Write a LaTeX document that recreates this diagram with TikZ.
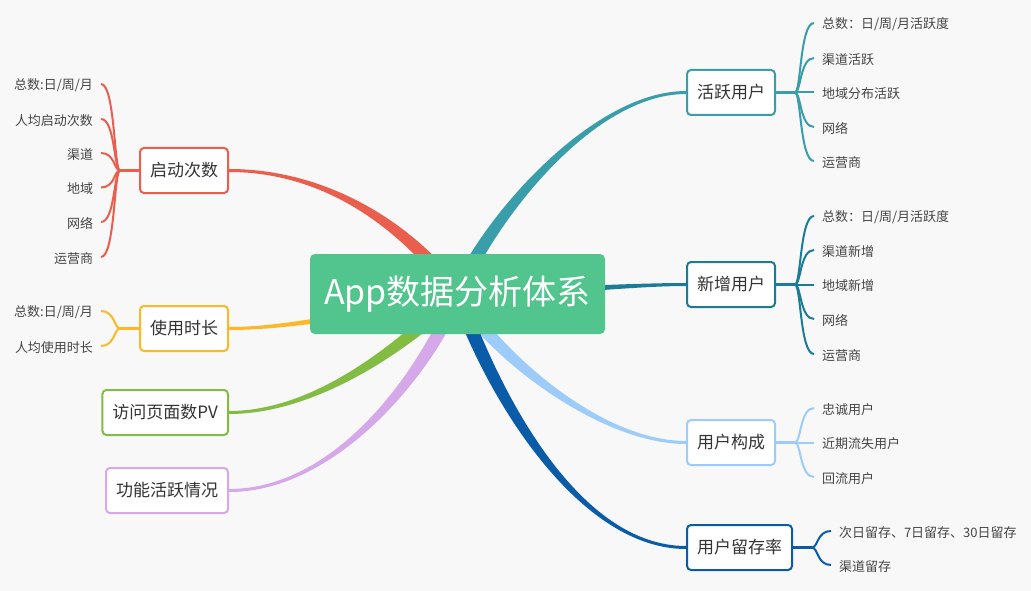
\documentclass[tikz,border=0pt]{standalone}
\usepackage{fontspec}
\setmainfont{Noto Sans CJK SC}
\usepackage{xcolor}
\usepackage{tikz}
\usetikzlibrary{calc, backgrounds}
\definecolor{bggray}{HTML}{F8F8F8}
\definecolor{rootgreen}{HTML}{52C48D}
\definecolor{qdred}{HTML}{EA5E4D}
\definecolor{scorange}{HTML}{FBB828}
\definecolor{fwgreen}{HTML}{82BC42}
\definecolor{gnlilac}{HTML}{D5A8EA}
\definecolor{hyteal}{HTML}{3A9DAA}
\definecolor{xzteal}{HTML}{1B7C98}
\definecolor{gcblue}{HTML}{9DCBFA}
\definecolor{lcblue}{HTML}{0B5CA8}
\definecolor{textgray}{HTML}{333333}
\definecolor{leafgray}{HTML}{454545}
\tikzset{
  root/.style={rectangle, fill=rootgreen, rounded corners=5pt,
               minimum width=295pt, minimum height=80pt, text=white,
               font=\fontsize{34pt}{40pt}\selectfont},
  topic/.style={rectangle, draw=#1, fill=white, line width=2pt,
                rounded corners=4pt, minimum height=45pt, inner xsep=10pt,
                text=textgray, font=\fontsize{17pt}{20pt}\selectfont},
  leaf/.style={inner sep=0pt, outer xsep=8pt, yshift=-1.5pt, text=leafgray,
               font=\fontsize{13pt}{15pt}\selectfont},
  hub/.style={draw=#1, line width=2.5pt},
  rbrace/.style={draw=#1, line width=2pt,
                 to path={.. controls +(6,0) and +(-14,0) .. (\tikztotarget)}},
  lbrace/.style={draw=#1, line width=2pt,
                 to path={.. controls +(-6,0) and +(14,0) .. (\tikztotarget)}},
}
% tapered branch: colour, start half width, start, control, control, end
\newcommand\taper[6]{%
  \fill[#1] ($(#3)!#2pt!90:(#4)$) .. controls ($(#4)!#2pt!-90:(#3)$) and ($(#5)!1.5pt!90:(#6)$) .. ($(#6)!1.5pt!-90:(#5)$)
    -- ($(#6)!1.5pt!90:(#5)$) .. controls ($(#5)!1.5pt!-90:(#6)$) and ($(#4)!#2pt!90:(#3)$) .. ($(#3)!#2pt!-90:(#4)$) -- cycle;}

\begin{document}
\begin{tikzpicture}[x=1pt, y=-1pt]
  \node[root] (app) at (457.5,294) {App数据分析体系};

  \node[topic=qdred, anchor=east] (qd) at (229,170.5) {启动次数};
  \node[topic=scorange, anchor=east] (sc) at (229,328.5) {使用时长};
  \node[topic=fwgreen, anchor=east] (fw) at (229,412.5) {访问页面数PV};
  \node[topic=gnlilac, anchor=east] (gn) at (229,490.5) {功能活跃情况};
  \node[topic=hyteal, anchor=west] (hy) at (686,92.5) {活跃用户};
  \node[topic=xzteal, anchor=west] (xz) at (686,284.5) {新增用户};
  \node[topic=gcblue, anchor=west] (gc) at (686,442.5) {用户构成};
  \node[topic=lcblue, anchor=west] (lc) at (686,547.5) {用户留存率};

  \coordinate (qdj) at (120,170.5);
  \coordinate (scj) at (120,328.5);
  \coordinate (hyj) at (795,92.5);
  \coordinate (xzj) at (795,284.5);
  \coordinate (gcj) at (795,442.5);
  \coordinate (lcj) at (812,547.5);

  % left leaves
  \node[leaf, anchor=east] (qd1) at (101,84) {总数:日/周/月};
  \node[leaf, anchor=east] (qd2) at (101,119) {人均启动次数};
  \node[leaf, anchor=east] (qd3) at (101,153) {渠道};
  \node[leaf, anchor=east] (qd4) at (101,187.5) {地域};
  \node[leaf, anchor=east] (qd5) at (101,222) {网络};
  \node[leaf, anchor=east] (qd6) at (101,257) {运营商};
  \node[leaf, anchor=east] (sc1) at (101,311) {总数:日/周/月};
  \node[leaf, anchor=east] (sc2) at (101,346) {人均使用时长};

  % right leaves
  \node[leaf, anchor=west] (hy1) at (814,23) {总数：日/周/月活跃度};
  \node[leaf, anchor=west] (hy2) at (814,58) {渠道活跃};
  \node[leaf, anchor=west] (hy3) at (814,92.5) {地域分布活跃};
  \node[leaf, anchor=west] (hy4) at (814,127) {网络};
  \node[leaf, anchor=west] (hy5) at (814,161) {运营商};
  \node[leaf, anchor=west] (xz1) at (814,216) {总数：日/周/月活跃度};
  \node[leaf, anchor=west] (xz2) at (814,250) {渠道新增};
  \node[leaf, anchor=west] (xz3) at (814,284.5) {地域新增};
  \node[leaf, anchor=west] (xz4) at (814,319) {网络};
  \node[leaf, anchor=west] (xz5) at (814,354) {运营商};
  \node[leaf, anchor=west] (gc1) at (814,408) {忠诚用户};
  \node[leaf, anchor=west] (gc2) at (814,442.5) {近期流失用户};
  \node[leaf, anchor=west] (gc3) at (814,477) {回流用户};
  \node[leaf, anchor=west] (lc1) at (831,531) {次日留存、7日留存、30日留存};
  \node[leaf, anchor=west] (lc2) at (831,565) {渠道留存};

  \draw[hub=qdred] (qd) -- (qdj);
  \draw[hub=scorange] (sc) -- (scj);
  \draw[hub=hyteal] (hy) -- (hyj);
  \draw[hub=xzteal] (xz) -- (xzj);
  \draw[hub=gcblue] (gc) -- (gcj);
  \draw[hub=lcblue] (lc) -- (lcj);
  \foreach \n in {1,...,6} \draw[lbrace=qdred] (qdj) to ([yshift=1.5pt]qd\n.east);
  \foreach \n in {1,2} \draw[lbrace=scorange] (scj) to ([yshift=1.5pt]sc\n.east);
  \foreach \n in {1,...,5} \draw[rbrace=hyteal] (hyj) to ([yshift=1.5pt]hy\n.west);
  \foreach \n in {1,...,5} \draw[rbrace=xzteal] (xzj) to ([yshift=1.5pt]xz\n.west);
  \foreach \n in {1,2,3} \draw[rbrace=gcblue] (gcj) to ([yshift=1.5pt]gc\n.west);
  \foreach \n in {1,2} \draw[rbrace=lcblue] (lcj) to ([yshift=1.5pt]lc\n.west);

  \begin{scope}[on background layer]
    \fill[bggray] (0,0) rectangle (1031,591);
    \taper{qdred}{7}{app.center}{410,230}{330,170.5}{qd.east}
    \taper{scorange}{4}{app.center}{370,312}{290,328.5}{sc.east}
    \taper{fwgreen}{7}{app.center}{410,340}{320,412.5}{fw.east}
    \taper{gnlilac}{7}{app.center}{430,365}{340,490.5}{gn.east}
    \taper{hyteal}{7}{app.center}{485,225}{590,92.5}{hy.west}
    \taper{xzteal}{4}{app.center}{550,292}{630,284.5}{xz.west}
    \taper{gcblue}{7}{app.center}{495,355}{600,442.5}{gc.west}
    \taper{lcblue}{7}{app.center}{495,400}{580,547.5}{lc.west}
  \end{scope}
\end{tikzpicture}
\end{document}
